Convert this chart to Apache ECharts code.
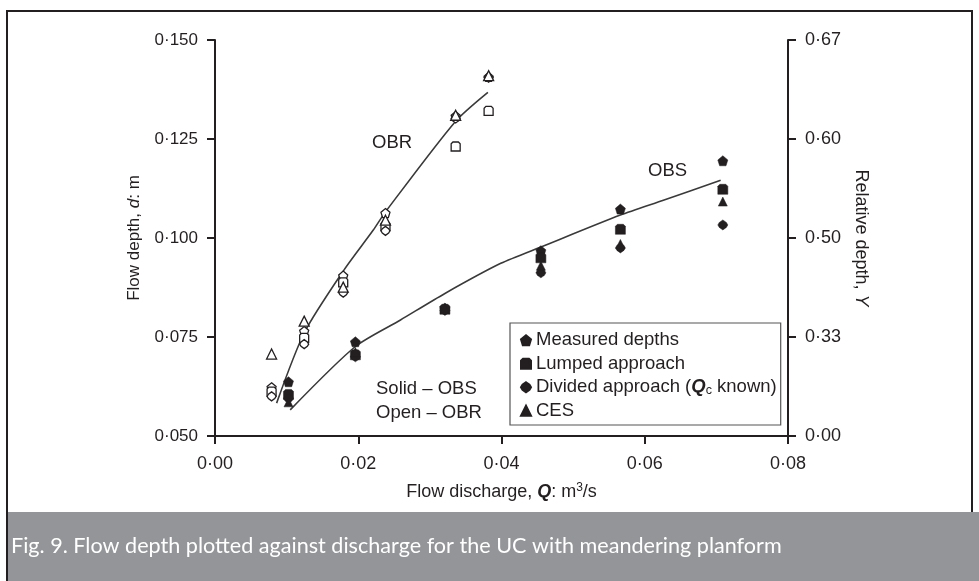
<!DOCTYPE html>
<html>
<head>
<meta charset="utf-8">
<script src="https://cdn.jsdelivr.net/npm/echarts@6/dist/echarts.min.js"></script>
<style>
html,body{margin:0;padding:0;background:#fff;}
#chart{width:979px;height:581px;}
</style>
</head>
<body>
<div id="chart"></div>
<script>
// ---- Data ----
const xTicks = [0, 0.02, 0.04, 0.06, 0.08];
const leftTicks = [0.050, 0.075, 0.100, 0.125, 0.150];
const rightTickLabels = ['0·00', '0·33', '0·50', '0·60', '0·67'];

const legendNames = ['Measured depths', 'Lumped approach', 'Divided approach (Qc known)', 'CES'];

// OBS (solid markers)
const qObs = [0.01026, 0.0196, 0.0321, 0.0455, 0.0566, 0.0709];
const obsMeasured = [0.0637, 0.0738, 0.0823, 0.0968, 0.1073, 0.1195];
const obsLumped   = [0.0605, 0.0705, 0.0820, 0.0950, 0.1022, 0.1123];
const obsDivided  = [0.0595, 0.0700, 0.0817, 0.0912, 0.0975, 0.1033];
const obsCes      = [0.0585, 0.0712, 0.0821, 0.0930, 0.0985, 0.1092];

// OBR (open markers)
const qObr = [0.0079, 0.01245, 0.0179, 0.0238, 0.0336, 0.0382];
const obrMeasured = [0.0623, 0.0765, 0.0905, 0.1063, 0.1308, 0.1407];
const obrLumped   = [0.0612, 0.0748, 0.0888, 0.1030, 0.1231, 0.1321];
const obrDivided  = [0.0600, 0.0732, 0.0862, 0.1018, 0.1302, 0.1405];
const obrCes      = [0.0707, 0.0790, 0.0876, 0.1045, 0.1310, 0.1410];

// Trend curves
const qObsFit = [0.0105, 0.0196, 0.0259, 0.0321, 0.0399, 0.0456, 0.0566, 0.0627, 0.0706];
const obsFit  = [0.0566, 0.0726, 0.0793, 0.0860, 0.0936, 0.0978, 0.1058, 0.1096, 0.1146];
const qObrFit = [0.0086, 0.0125, 0.0180, 0.0221, 0.0238, 0.0336, 0.0381];
const obrFit  = [0.0583, 0.0762, 0.0919, 0.1020, 0.1066, 0.1295, 0.1368];

// ---- Styling ----
const INK = '#231f20';
const FONT = '"Liberation Sans", Arial, Helvetica, sans-serif';
const FS = 18;
const symMeasured = 'path://M5,0 L10,4.2 L8.2,10 L1.8,10 L0,4.2 Z';
const symLumped = 'path://M2,0 L8,0 L10,2 L10,10 L0,10 L0,2 Z';
const symDivided = 'path://M5,0 L8.5,2.5 L10,5 L8.5,7.5 L5,10 L1.5,7.5 L0,5 L1.5,2.5 Z';
const symCes = 'triangle';
const symbols = [symMeasured, symLumped, symDivided, symCes];

const zip = (xs, ys) => xs.map((x, i) => [x, ys[i]]);
const dot = (v, d) => v.toFixed(d).replace('.', '·');

const obsSets = [obsMeasured, obsLumped, obsDivided, obsCes];
const obrSets = [obrMeasured, obrLumped, obrDivided, obrCes];

const series = [];
series.push({
  type: 'line', name: 'OBS fit', data: zip(qObsFit, obsFit), showSymbol: false, symbol: 'none',
  smooth: 0.25, lineStyle: {color: '#3a3a3a', width: 1.6}, z: 1, silent: true
});
series.push({
  type: 'line', name: 'OBR fit', data: zip(qObrFit, obrFit), showSymbol: false, symbol: 'none',
  smooth: 0.25, lineStyle: {color: '#3a3a3a', width: 1.6}, z: 1, silent: true
});
obsSets.forEach((ys, i) => {
  series.push({
    type: 'scatter', name: legendNames[i], data: zip(qObs, ys),
    symbol: symbols[i], symbolSize: i === 3 ? 9 : 10,
    itemStyle: {color: INK, borderColor: INK, borderWidth: 0.5, opacity: 1}, z: 3
  });
});
obrSets.forEach((ys, i) => {
  series.push({
    type: 'scatter', name: 'OBR ' + legendNames[i], data: zip(qObr, ys),
    symbol: symbols[i], symbolSize: i === 3 ? 10 : 9,
    itemStyle: {color: '#fff', borderColor: INK, borderWidth: 1.3, opacity: 1}, z: 3
  });
});

const chart = echarts.init(document.getElementById('chart'), null, {renderer: 'canvas'});
const axisLine = {show: true, onZero: false, lineStyle: {color: INK, width: 2}};
const axisTick = {show: true, length: 8, lineStyle: {color: INK, width: 2}};

chart.setOption({
  backgroundColor: '#fff',
  animation: false,
  textStyle: {fontFamily: FONT, color: INK},
  grid: {left: 215, right: 191, top: 40, bottom: 145, containLabel: false},
  xAxis: {
    type: 'value', min: xTicks[0], max: xTicks[xTicks.length - 1], interval: 0.02,
    axisLine, axisTick, splitLine: {show: false},
    axisLabel: {fontSize: FS, fontFamily: FONT, color: INK, margin: 19, formatter: v => dot(v, 2)},
    name: 'Flow discharge, {q|Q}: m{sup|3}/s', nameLocation: 'middle', nameGap: 46,
    nameTextStyle: {
      fontSize: FS, fontFamily: FONT, color: INK, lineHeight: 21,
      rich: {
        q: {fontSize: FS, fontFamily: FONT, fontWeight: 'bold', fontStyle: 'italic', color: INK, lineHeight: 21},
        sup: {fontSize: 12, fontFamily: FONT, color: INK, lineHeight: 12, verticalAlign: 'top'}
      }
    }
  },
  yAxis: [{
    type: 'value', min: leftTicks[0], max: leftTicks[leftTicks.length - 1], interval: 0.025,
    position: 'left', axisLine, axisTick, splitLine: {show: false},
    axisLabel: {fontSize: 17, fontFamily: FONT, color: INK, margin: 17, formatter: v => dot(v, 3)},
    name: 'Flow depth, {i|d}: m', nameLocation: 'middle', nameGap: 72,
    nameTextStyle: {
      fontSize: 17, fontFamily: FONT, color: INK,
      rich: {i: {fontSize: 17, fontFamily: FONT, fontStyle: 'italic', color: INK}}
    }
  }, {
    type: 'value', min: leftTicks[0], max: leftTicks[leftTicks.length - 1], interval: 0.025,
    position: 'right', axisLine, axisTick, splitLine: {show: false},
    axisLabel: {
      fontSize: FS, fontFamily: FONT, color: INK, margin: 17,
      formatter: v => rightTickLabels[Math.round((v - leftTicks[0]) / 0.025)] || ''
    },
    name: 'Relative depth, {i|Y}', nameLocation: 'middle', nameGap: 62, nameRotate: -90,
    nameTextStyle: {
      fontSize: FS, fontFamily: FONT, color: INK,
      rich: {i: {fontSize: FS, fontFamily: FONT, fontStyle: 'italic', color: INK}}
    }
  }],
  legend: {
    data: legendNames.map((n, i) => ({name: n, icon: symbols[i]})),
    orient: 'vertical', left: 510, top: 323,
    itemWidth: 10, itemHeight: 10, itemGap: 3,
    padding: [7, 4, 4, 10],
    borderColor: '#555', borderWidth: 1.2, borderRadius: 0,
    backgroundColor: '#fff', selectedMode: false,
    textStyle: {
      fontSize: 18.5, fontFamily: FONT, color: INK, lineHeight: 20.5,
      rich: {
        q: {fontSize: 18.5, fontFamily: FONT, fontWeight: 'bold', fontStyle: 'italic', color: INK, lineHeight: 20.5},
        c: {fontSize: 12.5, fontFamily: FONT, color: INK, lineHeight: 20.5, verticalAlign: 'bottom'}
      }
    },
    formatter: n => n === legendNames[2] ? 'Divided approach ({q|Q}{c|c} known)' : n
  },
  graphic: [
    {type: 'rect', z: -10, silent: true, shape: {x: 7, y: 11, width: 965, height: 600},
     style: {fill: '#fff', stroke: INK, lineWidth: 2}},
    {type: 'rect', z: 100, silent: true, shape: {x: 8, y: 512, width: 971, height: 69},
     style: {fill: '#939598'}},
    {type: 'text', z: 101, silent: true, left: 11, top: 535,
     style: {text: 'Fig. 9. Flow depth plotted against discharge for the UC with meandering planform',
             fill: '#fff', font: '21.6px Lato, "Open Sans", sans-serif'}},
    {type: 'text', silent: true, left: 372, top: 133,
     style: {text: 'OBR', fill: INK, font: '18.5px ' + FONT}},
    {type: 'text', silent: true, left: 648, top: 161,
     style: {text: 'OBS', fill: INK, font: '18.5px ' + FONT}},
    {type: 'text', silent: true, left: 376, top: 379,
     style: {text: 'Solid – OBS', fill: INK, font: '18.5px ' + FONT}},
    {type: 'text', silent: true, left: 376, top: 403,
     style: {text: 'Open – OBR', fill: INK, font: '18.5px ' + FONT}}
  ],
  series
});
</script>
</body>
</html>
